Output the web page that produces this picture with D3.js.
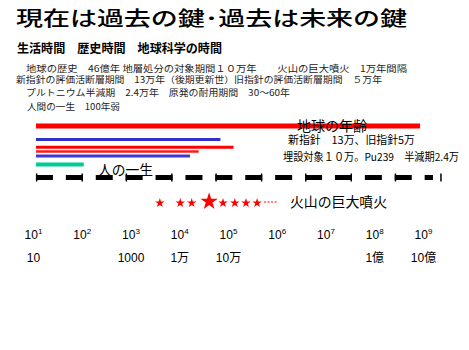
<!DOCTYPE html>
<html>
<head>
<meta charset="utf-8">
<script src="https://cdn.jsdelivr.net/npm/d3@7"></script>
<style>
  body { margin: 0; background: #fff; }
  svg { display: block; font-family: "Noto Sans CJK JP", "Liberation Sans", sans-serif; }
</style>
</head>
<body>
<div id="chart"></div>
<script>
// Chart data
const tickPowers = [1, 2, 3, 4, 5, 6, 7, 8, 9];
const unitValues = [10, 1000, 1e4, 1e5, 1e8, 1e9];
const unitLabels = ['10', '1000', '1万', '10万', '1億', '10億'];

const barNames = ['earth', 'blue1', 'red2', 'red3', 'blue2', 'human'];
const barEnds = [8.7e8, 7e4, 1.3e5, 2.5e4, 1.66e4, 110];
const barStart = 11.5;

const eruptionYears = [4000, 10500, 18000, 41000, 79000, 138000, 234000, 395000];
const eruptionBig = [false, false, false, true, false, false, false, false];
const eruptionTail = [5.5e5, 1e6];

const dashSpan = [11.5, 1.6e9];

const infoLines = [
  '地球の歴史　46億年 地層処分の対象期間１０万年　　火山の巨大噴火　1万年間隔',
  '新指針の評価活断層期間　13万年（後期更新世）旧指針の評価活断層期間　５万年',
  'プルトニウム半減期　2.4万年　原発の耐用期間　30～60年',
  '人間の一生　100年弱'
];

const width = 469;
const height = 350;

const svg = d3.select('#chart')
  .append('svg')
  .attr('width', width)
  .attr('height', height);

// log scale for years
const x = d3.scaleLog().domain([10, 1e9]).range([33, 423]);

// Title and subtitle
svg.append('text')
  .attr('x', 16).attr('y', 26)
  .attr('font-size', 20).attr('font-weight', 500)
  .attr('textLength', 391).attr('lengthAdjust', 'spacingAndGlyphs')
  .text('現在は過去の鍵･過去は未来の鍵');

svg.append('text')
  .attr('x', 17).attr('y', 53)
  .attr('font-size', 12.5).attr('font-weight', 'bold')
  .attr('textLength', 205).attr('lengthAdjust', 'spacingAndGlyphs')
  .text('生活時間　歴史時間　地球科学の時間');

// Info lines
const infoLayout = [
  { x: 26, y: 72, len: 381 },
  { x: 16, y: 83, len: 366 },
  { x: 26, y: 96, len: 264 },
  { x: 27, y: 110, len: 93 }
];
svg.selectAll('.info')
  .data(infoLines)
  .enter()
  .append('text')
  .attr('class', 'info')
  .attr('x', (d, i) => infoLayout[i].x)
  .attr('y', (d, i) => infoLayout[i].y)
  .attr('font-size', 9)
  .attr('fill', '#222')
  .attr('textLength', (d, i) => infoLayout[i].len)
  .attr('lengthAdjust', 'spacingAndGlyphs')
  .text((d) => d);

// Bars
const laneY = d3.scaleOrdinal().domain(barNames).range([126, 139.5, 147.3, 151.5, 156, 164.5]);
const laneW = d3.scaleOrdinal().domain(barNames).range([5, 3, 3, 2.5, 3, 4]);
const laneColor = d3.scaleOrdinal().domain(barNames)
  .range(['#ff0000', '#3232c8', '#ff0000', '#ff1a1a', '#3a3ad0', '#00cc96']);

svg.selectAll('.bar')
  .data(barNames)
  .enter()
  .append('line')
  .attr('class', 'bar')
  .attr('x1', x(barStart))
  .attr('x2', (d, i) => x(barEnds[i]))
  .attr('y1', (d) => laneY(d))
  .attr('y2', (d) => laneY(d))
  .attr('stroke', (d) => laneColor(d))
  .attr('stroke-width', (d) => laneW(d));

// Dashed time line
const dashY = 177.5;
const dashLen = 17;
const gapLen = 12.9;
svg.append('line')
  .attr('x1', x(dashSpan[0])).attr('x2', x(dashSpan[1]))
  .attr('y1', dashY).attr('y2', dashY)
  .attr('stroke', '#000')
  .attr('stroke-width', 5)
  .attr('stroke-dasharray', `${dashLen},${gapLen}`);

// small end caps on the dashes
const capXs = [];
const x0 = x(dashSpan[0]);
const x1 = x(dashSpan[1]);
for (let i = 0; x0 + i * (dashLen + gapLen) < x1; i++) {
  const start = x0 + i * (dashLen + gapLen);
  if (i % 3 === 0) capXs.push(start + 0.7);
  if (i % 3 === 1) capXs.push(start + dashLen - 0.7);
}
svg.selectAll('.cap')
  .data(capXs)
  .enter()
  .append('line')
  .attr('class', 'cap')
  .attr('x1', (d) => d).attr('x2', (d) => d)
  .attr('y1', dashY - 4).attr('y2', dashY + 4)
  .attr('stroke', '#000')
  .attr('stroke-width', 1.5);

// Eruption stars
const starY = 203;
svg.selectAll('.star')
  .data(eruptionYears)
  .enter()
  .append('path')
  .attr('class', 'star')
  .attr('d', (d, i) => d3.symbol().type(d3.symbolStar).size(eruptionBig[i] ? 95 : 28)())
  .attr('transform', (d, i) => `translate(${x(d)},${eruptionBig[i] ? starY - 1.5 : starY})`)
  .attr('fill', '#ff0000');

svg.append('line')
  .attr('x1', x(eruptionTail[0])).attr('x2', x(eruptionTail[1]))
  .attr('y1', starY - 1).attr('y2', starY - 1)
  .attr('stroke', '#ff0000')
  .attr('stroke-width', 1)
  .attr('stroke-dasharray', '2,1.5');

// Annotations
const notes = [
  { t: '地球の年齢', x: 297, y: 131, s: 14, len: 70 },
  { t: '新指針　13万、旧指針5万', x: 288, y: 144, s: 11, len: 127 },
  { t: '埋設対象１０万。Pu239　半減期2.4万', x: 283, y: 161, s: 11, len: 176 },
  { t: '人の一生', x: 98, y: 175, s: 14, len: 55 },
  { t: '火山の巨大噴火', x: 290, y: 207, s: 14, len: 97 }
];
svg.selectAll('.note')
  .data(notes)
  .enter()
  .append('text')
  .attr('class', 'note')
  .attr('x', (d) => d.x)
  .attr('y', (d) => d.y)
  .attr('font-size', (d) => d.s)
  .attr('textLength', (d) => d.len)
  .attr('lengthAdjust', 'spacingAndGlyphs')
  .text((d) => d.t);

// Axis of powers of ten
const powerAxis = svg.append('g')
  .attr('transform', 'translate(0,227)')
  .call(d3.axisBottom(x)
    .tickValues(tickPowers.map((p) => Math.pow(10, p)))
    .tickSize(0)
    .tickFormat(() => ''));
powerAxis.select('.domain').remove();
powerAxis.selectAll('.tick text')
  .attr('font-family', '"Liberation Sans", Arial, sans-serif')
  .attr('font-size', 12)
  .attr('fill', '#000')
  .each(function (d, i) {
    const t = d3.select(this);
    t.append('tspan').text('10');
    t.append('tspan').attr('dy', -5).attr('font-size', 8).text(tickPowers[i]);
  });

// Axis of Japanese units
const unitAxis = svg.append('g')
  .attr('transform', 'translate(0,250)')
  .call(d3.axisBottom(x)
    .tickValues(unitValues)
    .tickSize(0)
    .tickFormat((d, i) => unitLabels[i]));
unitAxis.select('.domain').remove();
unitAxis.selectAll('.tick text')
  .attr('font-family', '"Liberation Sans", "Noto Sans CJK JP", sans-serif')
  .attr('font-size', 12)
  .attr('fill', '#000');
</script>
</body>
</html>
